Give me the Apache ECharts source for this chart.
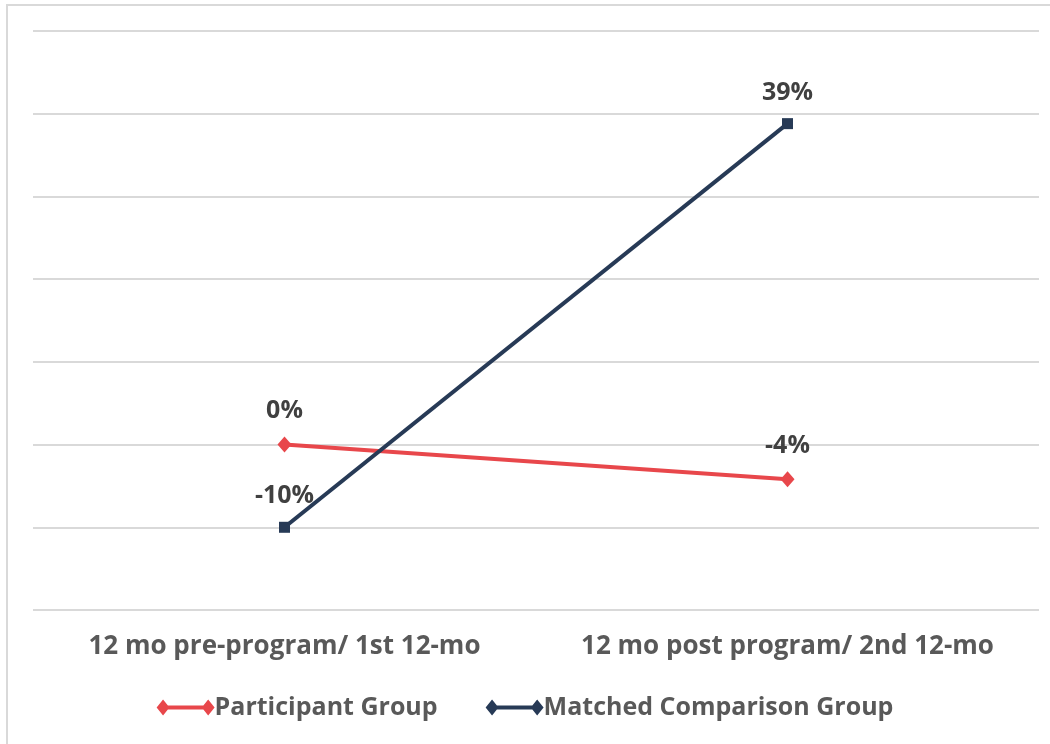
<!DOCTYPE html>
<html><head><meta charset="utf-8">
<script src="https://cdn.jsdelivr.net/npm/echarts@6/dist/echarts.min.js"></script>
<style>html,body{margin:0;padding:0;background:#fff}#c{width:1050px;height:744px}</style>
</head><body><div id="c"></div>
<script>
const categories = ['12 mo pre-program/ 1st 12-mo', '12 mo post program/ 2nd 12-mo'];
const participant = [0, -4.2];
const matched = [-10, 38.8];
const seriesNames = ['Participant Group', 'Matched Comparison Group'];

const RED = '#E8474B', NAVY = '#273A56';
const FONT = '"Open Sans", sans-serif';
const legendIcon = 'path://M0,8L6.5,0L13,8L6.5,16Z M6,6L52,6L52,10L6,10Z M45.5,8L52,0L58.5,8L52,16Z';

const chart = echarts.init(document.getElementById('c'));
const lbl = {
  show: true, position: 'top', distance: 13,
  fontFamily: FONT, fontWeight: 'bold', fontSize: 25, color: '#404040',
  formatter: p => Math.round(p.value) + '%'
};
chart.setOption({
  animation: false,
  graphic: [{type: 'rect', shape: {x: 7, y: 5, width: 1100, height: 800},
    style: {fill: 'none', stroke: '#d9d9d9', lineWidth: 2}, z: -1}],
  grid: {left: 33, right: 11, top: 31, bottom: 134},
  legend: {
    bottom: 19, left: 'center', itemGap: 48, itemWidth: 58, itemHeight: 16,
    textStyle: {fontFamily: FONT, fontWeight: 'bold', fontSize: 25, color: '#595959', padding: [0,0,0,-5]},
    data: [{name: seriesNames[0], icon: legendIcon}, {name: seriesNames[1], icon: legendIcon}]
  },
  xAxis: {
    type: 'category', data: categories, boundaryGap: true,
    axisLine: {show: false}, axisTick: {show: false},
    axisLabel: {interval: 0, hideOverlap: false, fontFamily: FONT, fontWeight: 'bold', fontSize: 26, color: '#595959', margin: 24}
  },
  yAxis: {
    type: 'value', min: -20, max: 50, interval: 10,
    axisLabel: {show: false}, axisLine: {show: false}, axisTick: {show: false},
    splitLine: {lineStyle: {color: '#d9d9d9', width: 2}}
  },
  series: [
    {name: seriesNames[0], type: 'line', data: participant, color: RED,
     symbol: 'diamond', symbolSize: [14, 16], lineStyle: {width: 4, color: RED},
     itemStyle: {color: RED}, label: lbl, z: 3},
    {name: seriesNames[1], type: 'line', data: matched, color: NAVY,
     symbol: 'rect', symbolSize: 11, lineStyle: {width: 4, color: NAVY},
     itemStyle: {color: NAVY}, label: lbl, z: 4}
  ]
});
</script></body></html>
